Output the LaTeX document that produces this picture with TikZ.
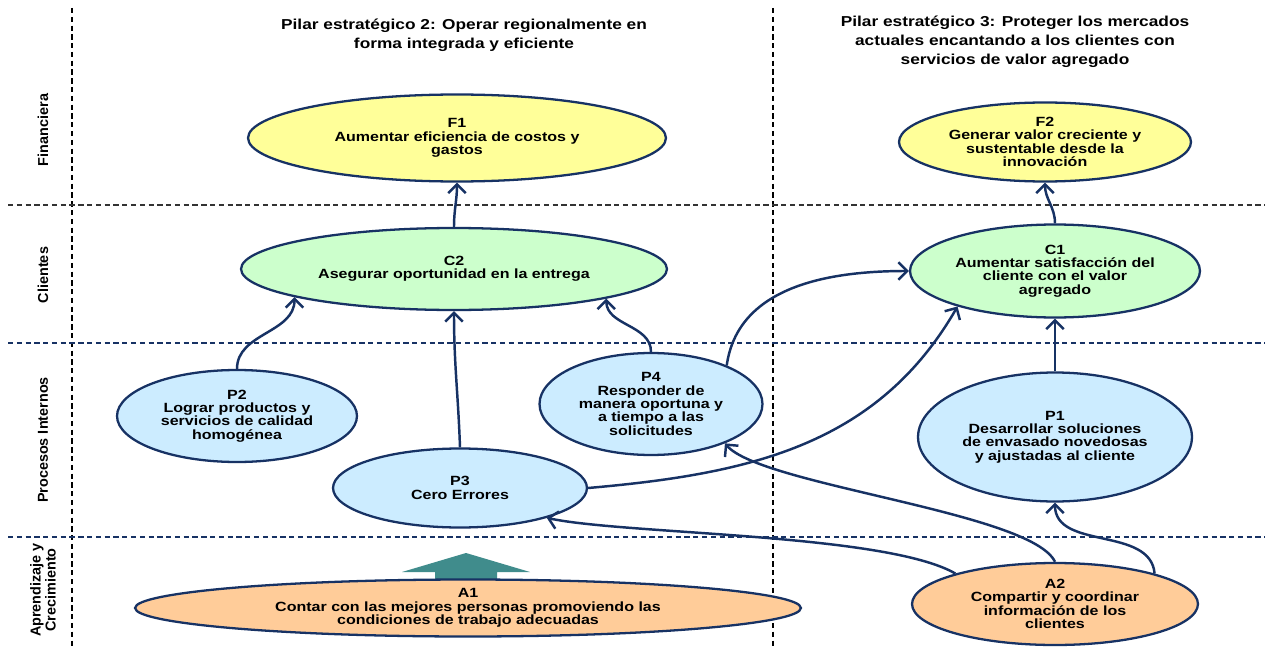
\documentclass[tikz,border=0pt]{standalone}
\usepackage{fontspec}
\setmainfont{Liberation Sans}
\newfontfamily\widefont{Liberation Sans}[FakeStretch=1.2]
\usetikzlibrary{shapes.geometric,arrows.meta}
\definecolor{navyline}{RGB}{23,50,100}
\definecolor{finfill}{RGB}{255,255,153}
\definecolor{clifill}{RGB}{204,255,204}
\definecolor{profill}{RGB}{204,236,255}
\definecolor{aprfill}{RGB}{255,204,153}
\definecolor{tealarrow}{RGB}{64,140,140}
\begin{document}
\begin{tikzpicture}[x=0.02cm,y=0.02cm,
        goal/.style={ellipse,draw=navyline,line width=1.3pt,inner sep=0pt,align=center,
            font=\widefont\bfseries\fontsize{7.6}{7.6}\selectfont},
        link/.style={navyline,line width=1.4pt,-{Straight Barb[length=5pt,width=10pt]}},
        lane/.style={densely dashed,line width=0.6pt},
        side/.style={rotate=90,align=center,font=\bfseries\fontsize{8.2}{8.5}\selectfont},
        pillar/.style={align=center,font=\widefont\bfseries\fontsize{8.2}{10.8}\selectfont}]
        \useasboundingbox (0,0) rectangle (1265,647);
        \fill[white] (0,0) rectangle (1265,647);

        \draw[lane] (72,639)--(72,0);
        \draw[lane] (773,639)--(773,0);
        \draw[lane,black!80] (8,442)--(1265,442);
        \draw[lane,navyline] (8,304)--(1265,304);
        \draw[lane,navyline] (8,110)--(1265,110);

        \node[side] (fin) at (43,517) {Financiera};
        \node[side] (cli) at (43,372) {Clientes};
        \node[side] (pro) at (43,207) {Procesos Internos};
        \node[side] (apr) at (43,57) {Aprendizaje y\\Crecimiento};

        \node[pillar] (pil2) at (464,611.5) {Pilar estratégico 2: Operar regionalmente en\\forma integrada y eficiente};
        \node[pillar] (pil3) at (1015,605.5) {Pilar estratégico 3: Proteger los mercados\\actuales encantando a los clientes con\\servicios de valor agregado};

        \coordinate (lift) at (466,67);
        \fill[tealarrow] (lift) ++(-31,-10) -- ++(0,18) -- ++(-33,0) -- ++(64,19) -- ++(64,-19) -- ++(-33,0) -- ++(0,-18) -- cycle;

        \node[goal,fill=finfill,minimum width=8.36cm,minimum height=1.74cm] (F1) at (457,509) {F1\\Aumentar eficiencia de costos y\\gastos};
        \node[goal,fill=finfill,minimum width=5.84cm,minimum height=1.58cm] (F2) at (1045,505) {F2\\Generar valor creciente y\\sustentable desde la\\innovación};
        \node[goal,fill=clifill,minimum width=8.52cm,minimum height=1.64cm] (C2) at (454,378) {C2\\Asegurar oportunidad en la entrega};
        \node[goal,fill=clifill,minimum width=5.8cm,minimum height=1.86cm] (C1) at (1055,376) {C1\\Aumentar satisfacción del\\cliente con el valor\\agregado};
        \node[goal,fill=profill,minimum width=5.48cm,minimum height=2.58cm] (P1) at (1055,210) {P1\\Desarrollar soluciones\\de envasado novedosas\\y ajustadas al cliente};
        \node[goal,fill=profill,minimum width=4.8cm,minimum height=1.84cm] (P2) at (237,231) {P2\\Lograr productos y\\servicios de calidad\\homogénea};
        \node[goal,fill=profill,minimum width=5.08cm,minimum height=1.58cm] (P3) at (460,159) {P3\\Cero Errores};
        \node[goal,fill=profill,minimum width=4.46cm,minimum height=2.04cm] (P4) at (651,243) {P4\\Responder de\\manera oportuna y\\a tiempo a las\\solicitudes};
        \node[goal,fill=aprfill,minimum width=13.32cm,minimum height=1.14cm] (A1) at (468,39) {A1\\Contar con las mejores personas promoviendo las\\condiciones de trabajo adecuadas};
        \node[goal,fill=aprfill,minimum width=5.72cm,minimum height=1.64cm] (A2) at (1055,43) {A2\\Compartir y coordinar\\información de los\\clientes};

        \draw[link] (C2.north) to[out=90,in=-90] (F1.south);
        \draw[link] (C1.north) to[out=90,in=-90] (F2.south);
        \draw[link] (P2.north) to[out=90,in=-90] (C2.190);
        \draw[link] (P3.north) to[out=92,in=-90] (C2.south);
        \draw[link] (P4.north) to[out=90,in=-90] (C2.-11);
        \draw[link] (P4.27) to[out=82,in=180] (C1.west);
        \draw[link] (P3.east) to[out=5,in=-120] (C1.200);
        \draw[link] (P1.north) -- (C1.south);
        \draw[link] (A2.17) to[out=95,in=-90] (P1.south);
        \draw[link] (A2.north) to[out=115,in=-50,looseness=0.4] (P4.-28);
        \draw[link] (A2.163) to[out=150,in=-12,looseness=0.5] (P3.-19);
    \end{tikzpicture}
\end{document}
